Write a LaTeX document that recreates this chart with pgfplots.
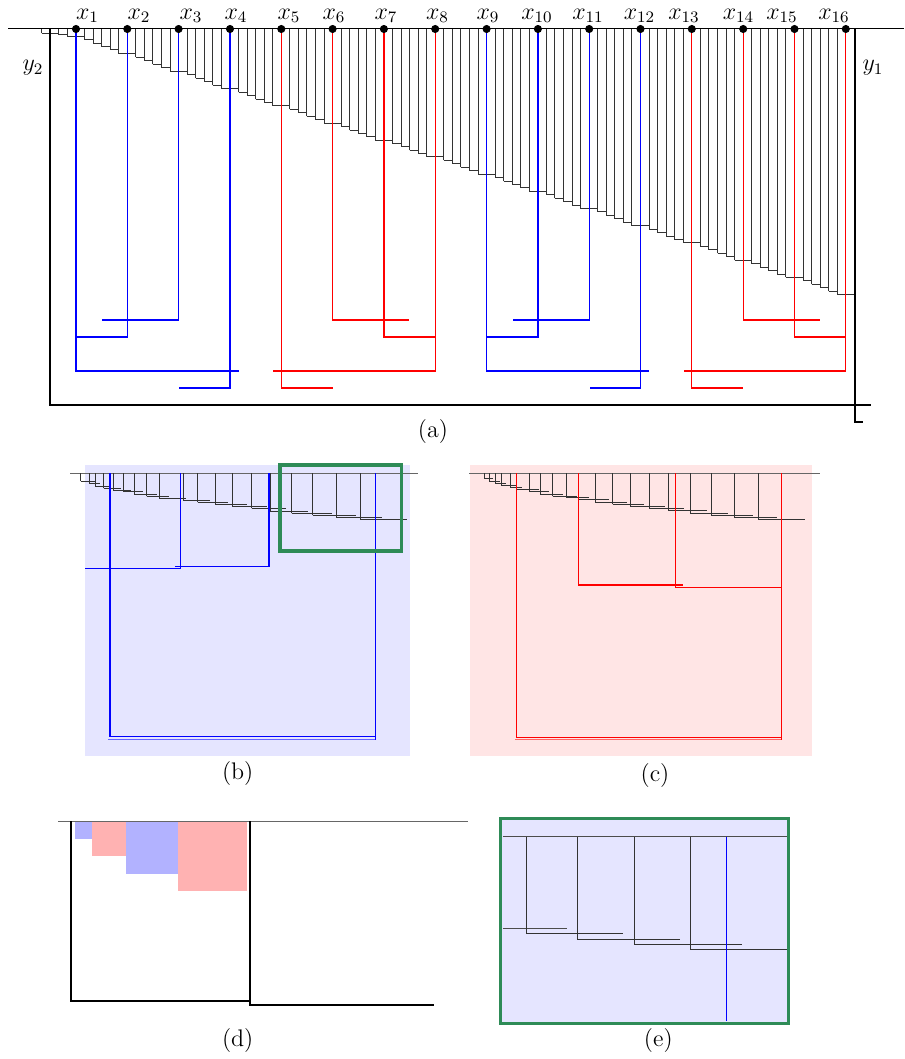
\documentclass[border=0pt]{standalone}
\usepackage{pgfplots}
\usepackage{pgfplotstable}
\pgfplotsset{compat=1.18}
\definecolor{gframe}{RGB}{46,139,87}
\newcommand\lf{\fontsize{12}{14}\selectfont}

% panel (a) staircase: left x, depth, horizontal length
\pgfplotstableread{
v d l
41.80 33.3 8.55
50.35 34.0 8.56
58.91 35.0 8.55
67.46 36.7 17.11
84.57 40.0 8.55
93.12 43.3 8.55
101.67 46.7 8.55
110.22 50.0 8.56
118.78 53.7 17.10
135.88 57.2 8.56
144.44 60.7 8.55
152.99 64.3 8.55
161.54 67.8 8.56
170.10 71.3 17.10
187.20 74.8 8.55
195.75 78.4 8.56
204.31 81.9 8.55
212.86 85.5 8.55
221.41 89.0 17.11
238.52 92.4 8.55
247.07 95.8 8.56
255.63 99.2 8.55
264.18 102.6 8.55
272.73 106.0 17.11
289.84 109.5 8.55
298.39 112.9 8.55
306.94 116.4 8.56
315.50 119.8 8.55
324.05 123.3 17.11
341.16 126.7 8.55
349.71 130.1 8.55
358.26 133.5 8.55
366.81 136.9 8.56
375.37 140.3 17.10
392.47 143.6 8.56
401.03 147.0 8.55
409.58 150.3 8.55
418.13 153.7 8.56
426.69 157.0 17.10
443.79 160.4 8.55
452.34 163.9 8.56
460.90 167.3 8.55
469.45 170.8 8.55
478.00 174.2 17.11
495.11 177.6 8.55
503.66 181.1 8.56
512.22 184.5 8.55
520.77 188.0 8.55
529.32 191.4 17.11
546.43 194.8 8.55
554.98 198.3 8.55
563.53 201.7 8.56
572.09 205.2 8.55
580.64 208.6 17.11
597.75 212.0 8.55
606.30 215.5 8.55
614.85 218.9 8.55
623.40 222.4 8.56
631.96 225.8 17.10
649.06 229.2 8.56
657.62 232.7 8.55
666.17 236.1 8.55
674.72 239.6 8.56
683.28 243.0 17.10
700.38 246.4 8.55
708.93 249.9 8.56
717.49 253.3 8.55
726.04 256.8 8.55
734.59 260.2 17.11
751.70 263.6 8.55
760.25 267.1 8.56
768.81 270.5 8.55
777.36 274.0 8.55
785.91 277.4 17.11
803.02 280.8 8.55
811.57 284.3 8.55
820.12 287.7 8.56
828.68 291.2 8.55
837.23 294.6 17.11
}\stairA

\pgfplotstableread{
v d l
80.7 481.0 15.5
89.3 483.7 10.3
95.0 486.0 15.7
103.7 488.0 17.3
113.3 490.0 18.0
123.3 491.7 19.3
134.0 494.3 22.9
146.7 496.3 22.7
159.3 498.3 26.7
183.3 500.0 26.7
197.7 502.3 30.3
215.0 504.3 31.5
232.3 506.3 34.5
251.7 508.3 34.3
270.0 511.0 38.0
291.5 513.2 40.2
312.8 515.4 42.9
336.5 517.6 45.2
360.3 519.8 46.4
}\stairB

\pgfplotstableread{
v d l
484.3 478.3 8.5
489.0 481.0 10.8
495.0 483.0 11.3
501.3 485.0 15.7
510.0 487.3 12.0
516.7 489.3 22.7
529.3 491.7 19.3
540.0 494.0 22.9
552.7 496.3 23.9
566.0 497.7 22.9
578.7 499.7 29.9
595.3 502.0 31.3
612.7 504.3 31.1
630.0 506.3 34.7
649.3 508.3 34.9
668.7 510.7 38.3
690.0 513.3 37.8
711.0 515.3 42.0
734.3 517.3 42.7
758.0 519.3 47.0
}\stairC

\pgfplotstableread{
v d l
526.0 933.7 97.3
577.3 939.0 102.7
634.0 944.3 107.7
690.3 949.3 96.4
}\stairE

\pgfplotsset{
  stair/.style={draw=none, mark=none, forget plot,
    error bars/.cd, x dir=plus, x explicit, y dir=minus, y explicit,
    error mark=none, error bar style={draw=black!80, line width=0.5pt}},
  tree/.style={line width=0.65pt, forget plot},
}

\begin{document}
\begin{tikzpicture}
\begin{axis}[scale only axis, width=452pt, height=529.5pt,
  xmin=0, xmax=904, ymin=0, ymax=1059, y dir=reverse,
  hide axis, clip=false, unbounded coords=jump]

% ---------------- panel (a) ----------------
\addplot[black, line width=0.5pt, forget plot] coordinates {(8,29) (904,29)};
\addplot[stair] table[x=v, y=d, x error=l, y error minus expr={\thisrow{d}-29}] {\stairA};

\addplot[blue, tree] coordinates {(76,29) (76,371) (238.7,371)};
\addplot[blue, tree] coordinates {(127.3,29) (127.3,337) (76,337)};
\addplot[blue, tree] coordinates {(178.6,29) (178.6,320) (102,320)};
\addplot[blue, tree] coordinates {(230,29) (230,388) (179.3,388)};
\addplot[blue, tree] coordinates {(486.6,29) (486.6,371) (649,371)};
\addplot[blue, tree] coordinates {(537.9,29) (537.9,337) (486.6,337)};
\addplot[blue, tree] coordinates {(589.2,29) (589.2,320) (512.5,320)};
\addplot[blue, tree] coordinates {(640.5,29) (640.5,388) (589.5,388)};
\addplot[red, tree] coordinates {(281.3,29) (281.3,388) (332.6,388)};
\addplot[red, tree] coordinates {(332.6,29) (332.6,320) (409.3,320)};
\addplot[red, tree] coordinates {(383.9,29) (383.9,337) (435.2,337)};
\addplot[red, tree] coordinates {(435.2,29) (435.2,371) (273.3,371)};
\addplot[red, tree] coordinates {(691.8,29) (691.8,388) (743.2,388)};
\addplot[red, tree] coordinates {(743.2,29) (743.2,320) (819.8,320)};
\addplot[red, tree] coordinates {(794.5,29) (794.5,337) (845.8,337)};
\addplot[red, tree] coordinates {(845.8,29) (845.8,371) (683.8,371)};

\addplot[black, line width=1pt, forget plot] coordinates {(50,29) (50,405.3) (870.7,405.3)};
\addplot[black, line width=1pt, forget plot] coordinates {(855.3,29) (855.3,421.7) (863.3,421.7)};

\addplot[only marks, mark=*, mark size=1.8pt, black, forget plot] coordinates {
 (76,29) (127.3,29) (178.6,29) (230,29) (281.3,29) (332.6,29) (383.9,29) (435.2,29)
 (486.6,29) (537.9,29) (589.2,29) (640.5,29) (691.8,29) (743.2,29) (794.5,29) (845.8,29)};

\node[font=\lf] at (axis cs:87.5,16) {$x_{1}$};
\node[font=\lf] at (axis cs:139,16) {$x_{2}$};
\node[font=\lf] at (axis cs:191,16) {$x_{3}$};
\node[font=\lf] at (axis cs:236,16) {$x_{4}$};
\node[font=\lf] at (axis cs:289,16) {$x_{5}$};
\node[font=\lf] at (axis cs:334,16) {$x_{6}$};
\node[font=\lf] at (axis cs:386,16) {$x_{7}$};
\node[font=\lf] at (axis cs:437.5,16) {$x_{8}$};
\node[font=\lf] at (axis cs:488,16) {$x_{9}$};
\node[font=\lf] at (axis cs:537,16) {$x_{10}$};
\node[font=\lf] at (axis cs:588,16) {$x_{11}$};
\node[font=\lf] at (axis cs:639.5,16) {$x_{12}$};
\node[font=\lf] at (axis cs:684,16) {$x_{13}$};
\node[font=\lf] at (axis cs:738.5,16) {$x_{14}$};
\node[font=\lf] at (axis cs:782,16) {$x_{15}$};
\node[font=\lf] at (axis cs:834,16) {$x_{16}$};
\node[font=\lf] at (axis cs:33,68) {$y_{2}$};
\node[font=\lf] at (axis cs:873,68) {$y_{1}$};
\node[font=\lf] at (axis cs:433,432) {(a)};

% ---------------- panel (b) ----------------
\addplot[fill=blue!10, draw=none, forget plot] coordinates {(85,465) (410,465) (410,755.7) (85,755.7)} -- cycle;
\addplot[black!60, line width=0.5pt, forget plot] coordinates {(70,473.3) (418,473.3)};
\addplot[stair] table[x=v, y=d, x error=l, y error minus expr={\thisrow{d}-473.3}] {\stairB};
\addplot[blue, tree] coordinates {(110,473.3) (110,736.7) (375.3,736.7)};
\addplot[blue, tree] coordinates {(375.3,473.3) (375.3,739.5)};
\addplot[blue, tree] coordinates {(180.7,473.3) (180.7,568.3) (85,568.3)};
\addplot[blue, tree] coordinates {(269,473.3) (269,566.7) (175,566.7)};
\addplot[blue!60, tree] coordinates {(108.3,739.5) (375.3,739.5)};
\addplot[draw=gframe, line width=1.7pt, forget plot] coordinates {(280,465) (401.7,465) (401.7,551) (280,551)} -- cycle;
\node[font=\lf] at (axis cs:237.7,774) {(b)};

% ---------------- panel (c) ----------------
\addplot[fill=red!10, draw=none, forget plot] coordinates {(470,465) (811.7,465) (811.7,755.7) (470,755.7)} -- cycle;
\addplot[black!60, line width=0.5pt, forget plot] coordinates {(469.3,473.3) (820,473.3)};
\addplot[stair] table[x=v, y=d, x error=l, y error minus expr={\thisrow{d}-473.3}] {\stairC};
\addplot[red, tree] coordinates {(516.7,473.3) (516.7,737.7) (781.3,737.7)};
\addplot[red, tree] coordinates {(781.3,473.3) (781.3,739.5)};
\addplot[red, tree] coordinates {(578.7,473.3) (578.7,585) (682.7,585)};
\addplot[red, tree] coordinates {(675.7,473.3) (675.7,587.7) (781.3,587.7)};
\addplot[red!60, tree] coordinates {(515,739.5) (781.3,739.5)};
\node[font=\lf] at (axis cs:655,776) {(c)};

% ---------------- panel (d) ----------------
\addplot[fill=blue!30, draw=none, forget plot] coordinates {(75,821.3) (92.3,821.3) (92.3,838.7) (75,838.7)} -- cycle;
\addplot[fill=red!30, draw=none, forget plot] coordinates {(92.3,821.3) (126.3,821.3) (126.3,855.7) (92.3,855.7)} -- cycle;
\addplot[fill=blue!30, draw=none, forget plot] coordinates {(126.3,821.3) (178,821.3) (178,873.7) (126.3,873.7)} -- cycle;
\addplot[fill=red!30, draw=none, forget plot] coordinates {(178,821.3) (247,821.3) (247,890.7) (178,890.7)} -- cycle;
\addplot[black!60, line width=0.5pt, forget plot] coordinates {(58.3,821.3) (468.3,821.3)};
\addplot[black, line width=1pt, forget plot] coordinates {(71,821.3) (71,1001) (250,1001)};
\addplot[black, line width=1pt, forget plot] coordinates {(250,821.3) (250,1005.3) (434,1005.3)};
\node[font=\lf] at (axis cs:237.7,1040) {(d)};

% ---------------- panel (e) ----------------
\addplot[fill=blue!10, draw=none, forget plot] coordinates {(500.7,818.3) (788.3,818.3) (788.3,1023.3) (500.7,1023.3)} -- cycle;
\addplot[black!70, line width=0.5pt, forget plot] coordinates {(503,836.7) (786.7,836.7)};
\addplot[black!70, line width=0.5pt, forget plot] coordinates {(503,928.7) (567.3,928.7)};
\addplot[stair] table[x=v, y=d, x error=l, y error minus expr={\thisrow{d}-836.7}] {\stairE};
\addplot[blue, tree] coordinates {(726.3,836.7) (726.3,1021)};
\addplot[draw=gframe, line width=1.7pt, forget plot] coordinates {(500.7,818.3) (788.3,818.3) (788.3,1023.3) (500.7,1023.3)} -- cycle;
\node[font=\lf] at (axis cs:658.3,1040) {(e)};

\end{axis}
\path (current axis.south west) rectangle (current axis.north east);
\end{tikzpicture}
\end{document}
